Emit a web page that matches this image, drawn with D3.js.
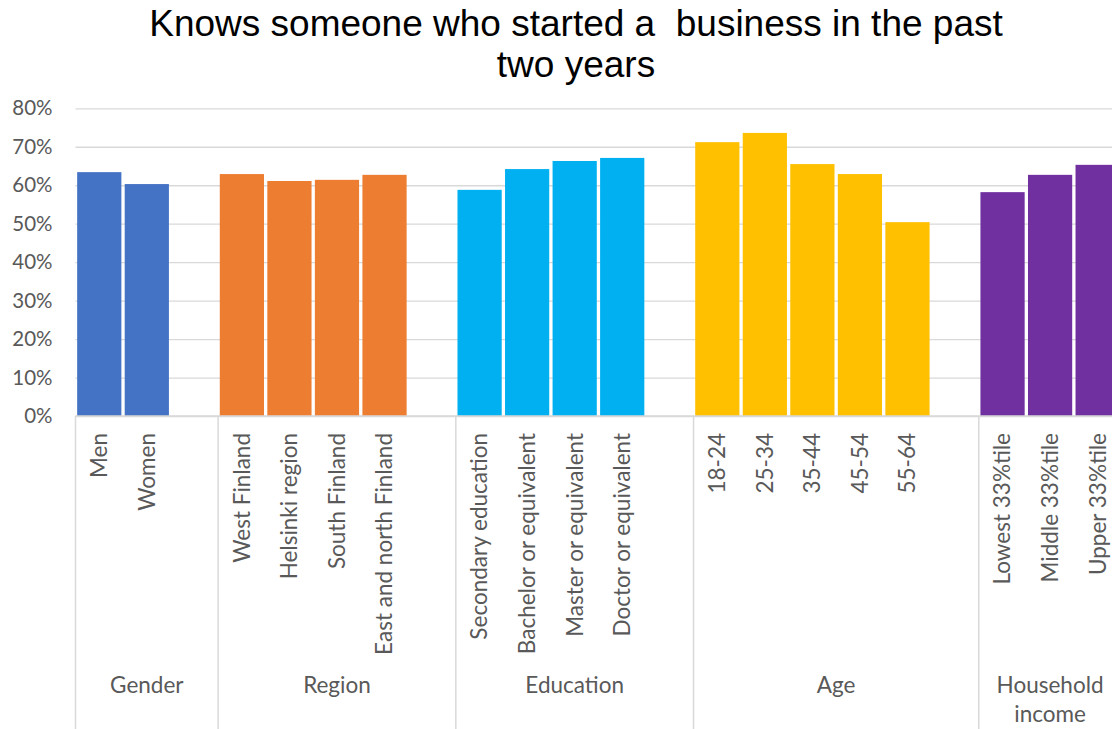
<!DOCTYPE html>
<html>
<head>
<meta charset="utf-8">
<script src="https://cdn.jsdelivr.net/npm/d3@7"></script>
<style>
  body { margin: 0; background: #fff; }
  svg { display: block; overflow: hidden; }
</style>
</head>
<body>
<div id="chart"></div>
<script>
/* DATA */
const groups = ["Gender", "Region", "Education", "Age", "Household income"];
const groupColors = ["#4472C4", "#ED7D31", "#00B0F0", "#FFC000", "#7030A0"];
const categories = [
  "Men", "Women",
  "West Finland", "Helsinki region", "South Finland", "East and north Finland",
  "Secondary education", "Bachelor or equivalent", "Master or equivalent", "Doctor or equivalent",
  "18-24", "25-34", "35-44", "45-54", "55-64",
  "Lowest 33%tile", "Middle 33%tile", "Upper 33%tile"
];
const categoryGroup = [
  "Gender", "Gender",
  "Region", "Region", "Region", "Region",
  "Education", "Education", "Education", "Education",
  "Age", "Age", "Age", "Age", "Age",
  "Household income", "Household income", "Household income"
];
const values = [
  63.4, 60.3,
  62.9, 61.1, 61.4, 62.7,
  58.8, 64.2, 66.3, 67.1,
  71.2, 73.6, 65.5, 62.9, 50.4,
  58.2, 62.7, 65.3
];
const yTicks = [0, 10, 20, 30, 40, 50, 60, 70, 80];
const title = ["Knows someone who started a  business in the past", "two years"];

/* LAYOUT */
const width = 1112, height = 729;
const plot = { left: 75.5, right: 1121.4, top: 108.3, bottom: 416 };
const textColor = "#595959", gridColor = "#d9d9d9";

// slots: each category plus one empty slot between groups
const slots = [];
groups.forEach((g, gi) => {
  categories.forEach((c, i) => { if (categoryGroup[i] === g) slots.push(c); });
  if (gi < groups.length - 1) slots.push("__gap" + gi);
});

const xScale = d3.scaleBand()
  .domain(slots)
  .range([plot.left, plot.right])
  .paddingInner(0.07)
  .paddingOuter(0.035);

const yScale = d3.scaleLinear()
  .domain([0, 80])
  .range([plot.bottom, plot.top]);

const color = d3.scaleOrdinal().domain(groups).range(groupColors);

const svg = d3.select("#chart").append("svg")
  .attr("width", width)
  .attr("height", height);

// title
svg.append("text")
  .attr("text-anchor", "middle")
  .style("font", "37px 'Liberation Sans', Arial, sans-serif")
  .style("white-space", "pre")
  .attr("fill", "#000")
  .selectAll("tspan")
  .data(title)
  .join("tspan")
  .attr("x", 576)
  .attr("y", (d, i) => 36 + i * 41)
  .text(d => d);

// y axis + gridlines
const yAxis = d3.axisLeft(yScale)
  .tickValues(yTicks)
  .tickFormat(d => d + "%")
  .tickSize(-(width - plot.left))
  .tickPadding(23);

const yAxisGroup = svg.append("g")
  .attr("transform", `translate(${plot.left},0)`)
  .call(yAxis);
yAxisGroup.select(".domain").remove();
yAxisGroup.selectAll(".tick line")
  .attr("stroke", gridColor)
  .attr("stroke-width", 1.3);
yAxisGroup.selectAll(".tick text")
  .attr("fill", textColor)
  .style("font", "20.5px Lato, sans-serif");

// bars
svg.append("g")
  .selectAll("rect")
  .data(categories)
  .join("rect")
  .attr("x", d => xScale(d))
  .attr("width", xScale.bandwidth())
  .attr("y", (d, i) => yScale(values[i]))
  .attr("height", (d, i) => yScale(0) - yScale(values[i]))
  .attr("fill", (d, i) => color(categoryGroup[i]));

// category axis line
svg.append("line")
  .attr("x1", plot.left).attr("x2", width)
  .attr("y1", plot.bottom).attr("y2", plot.bottom)
  .attr("stroke", gridColor).attr("stroke-width", 1.5);

// group boundaries
const step = xScale.step();
const groupSpans = groups.map(g => {
  const members = categories.filter((c, i) => categoryGroup[i] === g);
  const start = slots.indexOf(members[0]);
  const end = start + members.length + 1; // include trailing gap slot
  return { name: g, x0: plot.left + start * step, x1: Math.min(plot.left + end * step, plot.right) };
});

svg.append("g")
  .selectAll("line")
  .data([...groupSpans.map(d => d.x0), plot.right])
  .join("line")
  .attr("x1", d => d).attr("x2", d => d)
  .attr("y1", plot.bottom).attr("y2", height)
  .attr("stroke", gridColor).attr("stroke-width", 1.5);

// category labels (rotated)
svg.append("g")
  .selectAll("text")
  .data(categories)
  .join("text")
  .attr("transform", d => `translate(${xScale(d) + xScale.bandwidth() / 2},433) rotate(-90)`)
  .attr("text-anchor", "end")
  .attr("dy", "0.35em")
  .attr("fill", textColor)
  .style("font", "22.5px Lato, sans-serif")
  .text(d => d);

// group labels, wrapped when wider than their span
const groupText = svg.append("g")
  .selectAll("text")
  .data(groupSpans)
  .join("text")
  .attr("text-anchor", "middle")
  .attr("fill", textColor)
  .style("font", "22.5px Lato, sans-serif");

groupText.each(function(d) {
  const el = d3.select(this);
  const cx = (d.x0 + d.x1) / 2;
  el.text(d.name);
  const lines = this.getComputedTextLength() > (d.x1 - d.x0) - 10 ? d.name.split(" ") : [d.name];
  el.text(null);
  el.selectAll("tspan")
    .data(lines)
    .join("tspan")
    .attr("x", cx)
    .attr("y", (l, i) => 693 + i * 29)
    .text(l => l);
});
</script>
</body>
</html>
